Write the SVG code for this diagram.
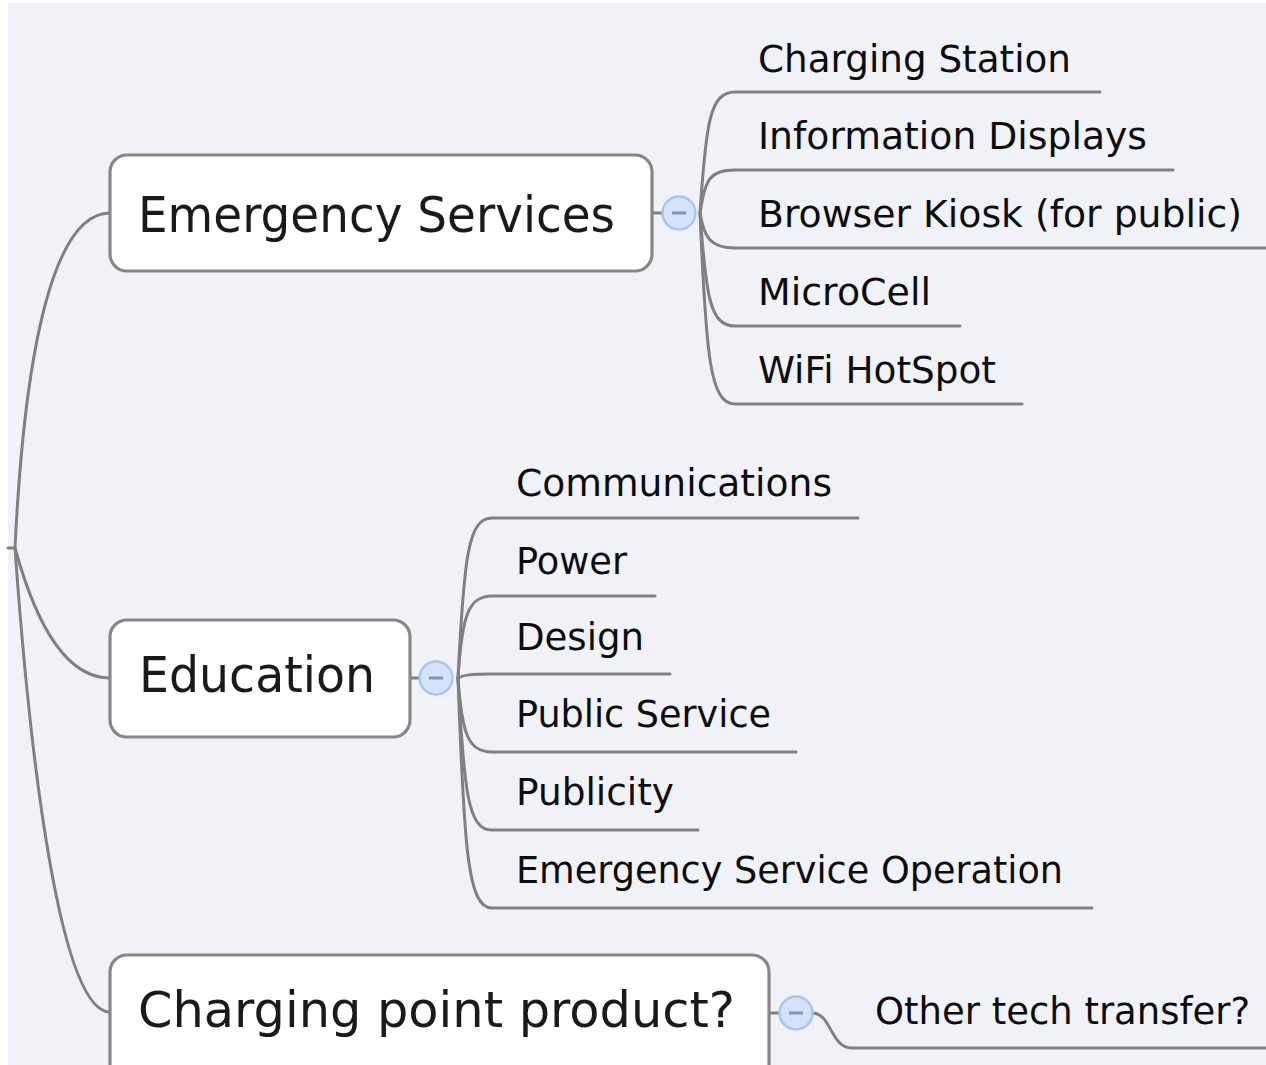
<svg xmlns="http://www.w3.org/2000/svg" width="1266" height="1065" viewBox="0 0 1266 1065">
<defs>
<style>
.bg{fill:#f1f2f8}
.conn path{fill:none;stroke:#808080;stroke-width:3;stroke-linecap:round}
.box{fill:#ffffff;stroke:#878787;stroke-width:3.2}
.main{font-family:"DejaVu Sans","Liberation Sans",sans-serif;font-size:50px;fill:#1a1a1a}
.sub{font-family:"DejaVu Sans","Liberation Sans",sans-serif;font-size:37px;fill:#0d0d0d}
.col circle{fill:#d5e2fb;stroke:#a9c3f3;stroke-width:2.4}
.col line{stroke:#8a90bd;stroke-width:3}
</style>
</defs>
<rect width="1266" height="1065" fill="#ffffff"/>
<rect class="bg" x="8" y="3" width="1258" height="1062"/>

<g id="connectors" class="conn">
<path d="M8,548 H15"/>
<path d="M15,548 C 26,320 60,213 110,213"/>
<path d="M15,548 C 32,610 60,678 110,678"/>
<path d="M15,548 C 30,760 60,1012 110,1012"/>
<path d="M652,213 H663"/>
<path d="M410,678 H420"/>
<path d="M769,1013 H780"/>
<path d="M700,213 C 706,122 710,92 735,92 H1100"/>
<path d="M700,213 C 705,179 710,170 735,170 H1173"/>
<path d="M700,213 C 704,237 710,248 735,248 H1266"/>
<path d="M700,213 C 706,297 710,326 735,326 H960"/>
<path d="M700,213 C 706,356 710,404 735,404 H1022"/>
<path d="M458,678 C 464,558 468,518 492,518 H858"/>
<path d="M458,678 C 462,616 468,596 492,596 H655"/>
<path d="M458,678 C 464,675 470,674 492,674 H670"/>
<path d="M458,678 C 462,734 468,752 492,752 H796"/>
<path d="M458,678 C 464,792 468,830 492,830 H698"/>
<path d="M458,678 C 464,850 468,908 492,908 H1092"/>
<path d="M812,1013 C 832,1013 830,1048 852,1048 H1266"/>
</g>

<g id="node-emergency-services">
<rect class="box" x="110" y="155" width="542" height="116" rx="17"/>
<text class="main" x="138" y="232" textLength="477" lengthAdjust="spacingAndGlyphs">Emergency Services</text>
<g class="col"><circle cx="679" cy="213" r="16.5"/><line x1="672" y1="213" x2="686" y2="213"/></g>
</g>

<g id="node-education">
<rect class="box" x="110" y="620" width="300" height="117" rx="17"/>
<text class="main" x="139" y="692" textLength="236" lengthAdjust="spacingAndGlyphs">Education</text>
<g class="col"><circle cx="436" cy="678" r="16.5"/><line x1="429" y1="678" x2="443" y2="678"/></g>
</g>

<g id="node-charging-point">
<rect class="box" x="110" y="955" width="659" height="130" rx="17"/>
<text class="main" x="138" y="1027" textLength="597" lengthAdjust="spacingAndGlyphs">Charging point product?</text>
<g class="col"><circle cx="796" cy="1013" r="16.5"/><line x1="789" y1="1013" x2="803" y2="1013"/></g>
</g>

<g id="node-charging-station"><text class="sub" x="758" y="72" textLength="313" lengthAdjust="spacingAndGlyphs">Charging Station</text></g>
<g id="node-information-displays"><text class="sub" x="758" y="149" textLength="389" lengthAdjust="spacingAndGlyphs">Information Displays</text></g>
<g id="node-browser-kiosk"><text class="sub" x="758" y="227" textLength="484" lengthAdjust="spacingAndGlyphs">Browser Kiosk (for public)</text></g>
<g id="node-microcell"><text class="sub" x="758" y="305" textLength="173" lengthAdjust="spacingAndGlyphs">MicroCell</text></g>
<g id="node-wifi-hotspot"><text class="sub" x="758" y="383" textLength="238" lengthAdjust="spacingAndGlyphs">WiFi HotSpot</text></g>

<g id="node-communications"><text class="sub" x="516" y="496" textLength="316" lengthAdjust="spacingAndGlyphs">Communications</text></g>
<g id="node-power"><text class="sub" x="516" y="574" textLength="111" lengthAdjust="spacingAndGlyphs">Power</text></g>
<g id="node-design"><text class="sub" x="516" y="650" textLength="128" lengthAdjust="spacingAndGlyphs">Design</text></g>
<g id="node-public-service"><text class="sub" x="516" y="727" textLength="255" lengthAdjust="spacingAndGlyphs">Public Service</text></g>
<g id="node-publicity"><text class="sub" x="516" y="805" textLength="158" lengthAdjust="spacingAndGlyphs">Publicity</text></g>
<g id="node-emergency-service-operation"><text class="sub" x="516" y="883" textLength="547" lengthAdjust="spacingAndGlyphs">Emergency Service Operation</text></g>

<g id="node-other-tech-transfer"><text class="sub" x="875" y="1024" textLength="375" lengthAdjust="spacingAndGlyphs">Other tech transfer?</text></g>
</svg>
